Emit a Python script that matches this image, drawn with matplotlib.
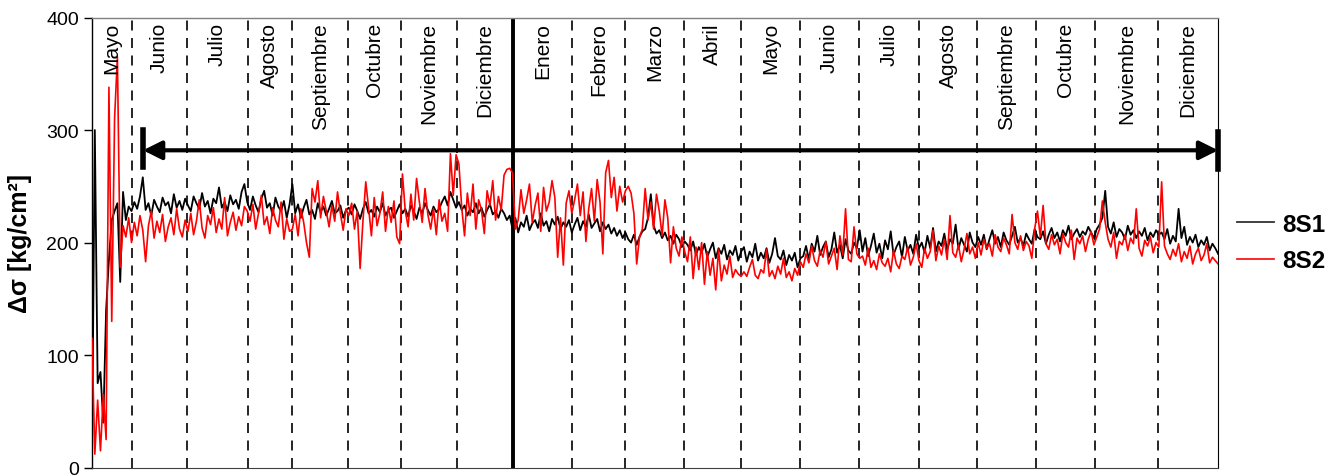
import numpy as np
import matplotlib.pyplot as plt
import matplotlib.transforms as mtransforms

plt.rcParams['font.family'] = ['Liberation Sans', 'DejaVu Sans']

# month boundaries (days since start of record) and month names
limites = [0, 21.1, 50.3, 82.7, 106.2, 136.1, 164.1, 193.7, 223.4, 254.9, 283.1,
           314.4, 344.7, 376.0, 407.3, 439.2, 470.0, 501.3, 532.7, 565.9, 598]
meses = ["Mayo", "Junio", "Julio", "Agosto", "Septiembre", "Octubre", "Noviembre",
         "Diciembre", "Enero", "Febrero", "Marzo", "Abril", "Mayo", "Junio", "Julio",
         "Agosto", "Septiembre", "Octubre", "Noviembre", "Diciembre"]
cambio_anio = 223.4

# 8S1 (black)
s1 = [5, 300, 75, 85, 40, 140, 185, 220, 228, 235, 165, 245, 220, 232,
      228, 236, 230, 241, 258, 229, 235, 224, 238, 232, 227, 240, 233, 236, 226, 243, 231, 237, 229, 239,
      233, 228, 241, 235, 230, 244, 232, 237, 226, 239, 235, 249, 231, 236, 228, 242, 234, 238, 230, 245, 252,
      236, 229, 241, 233, 227, 239, 246, 231, 235, 224, 240, 232, 228, 237, 222, 234,
      252, 226, 234, 222, 231, 238, 225, 229, 221, 235, 227, 232, 224, 230, 237, 226, 228, 233, 222, 229,
      231, 225, 234, 228, 221, 230, 236, 226, 229, 223, 232, 227, 235, 224, 229, 231, 222, 228, 234,
      226, 230, 223, 233, 228, 221, 231, 226, 235, 229, 224, 232, 227, 230, 236, 241, 233, 245, 238, 231,
      236, 229, 233, 224, 230, 227, 235, 226, 231, 223, 229, 234, 225, 228, 222, 230, 226, 220, 224, 212,
      222, 209, 218, 214, 224, 211, 217, 220, 213, 226, 215, 219, 210, 221, 216, 223, 212, 218, 214, 220, 209,
      216, 222, 211, 219, 214, 225, 213, 217, 221, 210, 218, 212, 216, 208, 213, 206, 211, 204, 209,
      203, 200, 207, 198, 205, 210, 212, 222, 243, 215, 208, 211, 204, 209, 202, 206, 199, 207, 203, 196, 201,
      198, 193, 201, 189, 196, 191, 199, 187, 194, 200, 186, 195, 190, 198, 185, 193, 189, 197, 184, 192,
      196, 183, 192, 187, 199, 184, 191, 186, 195, 182, 190, 204, 188, 185, 193, 180, 189, 184, 191, 178, 186,
      188, 197, 185, 199, 192, 206, 189, 196, 201, 187, 194, 209, 191, 198, 186, 203, 193, 190, 200, 195, 211,
      192, 204, 188, 197, 208, 191, 199, 186, 202, 194, 210, 189, 196, 201, 187, 205, 193, 198, 190, 207, 195,
      200, 191, 206, 195, 213, 192, 201, 197, 208, 193, 203, 199, 216, 194, 204, 198, 192, 209, 200, 196, 205,
      198, 207, 194, 203, 211, 199, 205, 196, 209, 202, 198, 206, 214, 200, 204, 197, 208, 203, 199, 212, 205,
      203, 210, 199, 207, 213, 204, 209, 201, 211, 206, 215, 203, 208, 212, 205, 210, 207, 214, 209, 204, 212,
      216, 222, 246, 214, 208, 218, 205, 212, 209, 203, 215, 207, 211, 204, 210, 206, 213, 202, 209, 205, 211, 207,
      209, 203, 212, 199, 206, 201, 230, 204, 214, 198, 205, 200, 207, 196, 202, 198, 205, 193, 199, 195, 190]

# 8S2 (red)
s2 = [115, 12, 60, 15, 65, 25, 338, 130, 310, 365, 178, 215, 205, 222,
      200, 218, 206, 224, 211, 183, 215, 228, 204, 219, 209, 225, 201, 214, 222, 207, 230, 212, 205, 220,
      210, 226, 207, 219, 238, 213, 204, 224, 216, 231, 209, 221, 212, 240, 206, 218, 227, 211, 223, 215, 232,
      228, 219, 234, 212, 226, 242, 216, 223, 208, 231, 220, 214, 236, 203, 221, 210,
      212, 225, 206, 230, 218, 200, 187, 248, 236, 255, 222, 241, 228, 214, 233, 219, 245, 226, 211, 230,
      224, 235, 212, 228, 177, 219, 254, 231, 206, 240, 215, 226, 245, 210, 232, 218, 237, 205, 199,
      261, 228, 214, 243, 220, 257, 236, 218, 248, 225, 212, 230, 207, 238, 219, 226, 210, 279, 242, 278,
      270, 231, 206, 244, 224, 252, 212, 238, 229, 208, 246, 233, 255, 220, 241, 229, 260, 265, 266, 262,
      212, 220, 247, 226, 238, 252, 218, 233, 244, 210, 249, 228, 236, 255, 240, 187, 222, 180, 235, 246, 226,
      238, 252, 224, 245, 201, 230, 248, 219, 256, 236, 190, 262, 273, 240, 258, 228, 250, 236, 246,
      250, 244, 226, 181, 205, 212, 248, 220, 236, 212, 243, 228, 206, 238, 222, 182, 214, 195, 188, 205, 192,
      183, 205, 168, 196, 176, 200, 163, 192, 171, 186, 158, 194, 166, 180, 172, 188, 169, 176, 172, 170,
      174, 170, 178, 185, 171, 168, 176, 173, 194, 170, 175, 168, 179, 172, 186, 169, 174, 166, 177, 171, 183,
      178, 190, 182, 197, 184, 179, 193, 187, 201, 181, 188, 195, 176, 206, 189, 230, 185, 183, 214, 190, 186,
      188, 180, 195, 178, 184, 176, 190, 182, 179, 186, 174, 193, 181, 177, 188, 185, 196, 180, 187, 199, 184,
      178, 195, 186, 192, 211, 184, 197, 189, 203, 185, 224, 191, 187, 198, 183, 194, 208, 190, 196, 186, 200,
      189, 203, 195, 199, 188, 207, 196, 192, 204, 198, 190, 225, 200, 194, 206, 193, 201, 197, 186, 212, 228,
      205, 233, 199, 194, 207, 198, 203, 190, 208, 200, 196, 211, 185, 204, 199, 206, 192, 203, 210, 198, 205,
      212, 237, 218, 203, 196, 209, 186, 201, 198, 207, 193, 204, 199, 230, 195, 188, 202, 197, 205, 191, 200, 196,
      254, 197, 190, 185, 194, 188, 199, 183, 192, 186, 197, 181, 190, 195, 184, 189, 199, 182, 187, 184, 181]

# arrow marking the analysed period
flecha_ini, flecha_fin, flecha_y = 27.1, 598, 282

dias1 = np.linspace(0, limites[-1], len(s1))
dias2 = np.linspace(0, limites[-1], len(s2))

fig = plt.figure(figsize=(13.43, 4.77), dpi=100)
ax = fig.add_axes([0.0685, 0.0175, 0.8385, 0.9437])

# month separators
for b in limites[1:-1]:
    if b == cambio_anio:
        ax.axvline(b, color='black', lw=2.8, zorder=1)
    else:
        ax.axvline(b, color='black', lw=1.2, ls=(0, (6, 4.5)), zorder=1)

ax.plot(dias1, s1, color='black', lw=1.3, label='8S1', zorder=3)
ax.plot(dias2, s2, color='#ff0000', lw=1.2, label='8S2', zorder=4)

trans = mtransforms.blended_transform_factory(ax.transData, ax.transAxes)
for i, m in enumerate(meses):
    xc = (limites[i] + limites[i + 1]) / 2
    ax.text(xc, 0.99, m, rotation=90, ha='center', va='top', fontsize=15,
            transform=trans, zorder=5)

# double arrow with end bars
ax.annotate('', xy=(flecha_ini, flecha_y), xytext=(flecha_fin, flecha_y),
            arrowprops=dict(arrowstyle='<|-|>', lw=3, color='black',
                            mutation_scale=28, shrinkA=0, shrinkB=0),
            annotation_clip=False, zorder=6)
ax.plot([flecha_ini, flecha_ini], [267, 300], color='black', lw=4, clip_on=False, zorder=6)
ax.plot([flecha_fin, flecha_fin], [265, 298], color='black', lw=4, clip_on=False, zorder=6)

ax.set_xlim(0, limites[-1])
ax.set_ylim(0, 400)
ax.set_yticks([0, 100, 200, 300, 400])
ax.set_xticks([])
ax.tick_params(axis='y', labelsize=14, length=6, width=1, direction='out')
ax.set_ylabel('Δσ [kg/cm²]', fontsize=18, fontweight='bold', labelpad=10)

ax.spines['top'].set_color('#808080')
ax.spines['top'].set_linewidth(1.0)
ax.spines['right'].set_linewidth(0.8)
ax.spines['left'].set_linewidth(1.0)
ax.spines['bottom'].set_color('#404040')

leg = ax.legend(loc='center left', bbox_to_anchor=(1.017, 0.5), frameon=False,
                prop={'size': 17.5, 'weight': 'bold'}, handlelength=1.5,
                handletextpad=0.37, labelspacing=0.55, borderpad=0, borderaxespad=0)
leg.get_lines()[0].set_color('#333333')

fig.savefig('out.png', dpi=100)
